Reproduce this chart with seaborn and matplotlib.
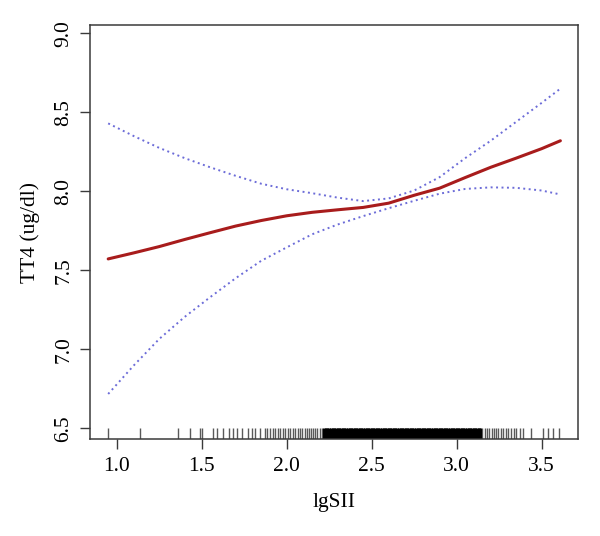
import matplotlib
matplotlib.use("Agg")
import matplotlib.pyplot as plt
import seaborn as sns
import numpy as np
import pandas as pd

sns.set_theme(style="white")
plt.rcParams['font.family'] = ['Liberation Serif', 'DejaVu Serif']

# curva ajustada y limites del IC 95%
lgsii = [0.95, 1.10, 1.25, 1.40, 1.55, 1.70, 1.85, 2.00, 2.15, 2.30,
         2.45, 2.60, 2.75, 2.90, 3.05, 3.20, 3.35, 3.50, 3.61]
fit = [7.572, 7.610, 7.650, 7.695, 7.738, 7.780, 7.815, 7.845, 7.867, 7.883,
       7.898, 7.925, 7.975, 8.020, 8.087, 8.152, 8.210, 8.270, 8.320]
upper = [8.430, 8.350, 8.275, 8.210, 8.152, 8.098, 8.048, 8.013, 7.988, 7.960,
         7.938, 7.955, 8.005, 8.090, 8.210, 8.320, 8.440, 8.560, 8.650]
lower = [6.717, 6.897, 7.065, 7.205, 7.330, 7.450, 7.560, 7.645, 7.728, 7.790,
         7.843, 7.893, 7.940, 7.985, 8.015, 8.025, 8.022, 8.005, 7.980]

# observaciones (rug) - zonas dispersas y bloque denso
rug_sparse = [0.949, 1.140, 1.362, 1.431, 1.490, 1.500, 1.568, 1.588, 1.627, 1.663,
              1.686, 1.710, 1.736, 1.775, 1.795, 1.814, 1.844, 1.873, 1.883, 1.903,
              1.918, 1.932, 1.946, 1.962, 1.978, 1.991, 2.005, 2.021, 2.037, 2.050,
              2.065, 2.080, 2.092, 2.105, 2.118, 2.130, 2.142, 2.155, 2.168, 2.180,
              2.195, 2.210,
              3.150, 3.165, 3.178, 3.190, 3.205, 3.218, 3.232, 3.245, 3.258, 3.272,
              3.288, 3.300, 3.318, 3.335, 3.350, 3.370, 3.390, 3.440, 3.505, 3.535,
              3.565, 3.604]
rug_dense = [2.22, 2.23, 2.24, 2.25, 2.26, 2.27, 2.28, 2.29, 2.30, 2.31,
             2.32, 2.33, 2.34, 2.35, 2.36, 2.37, 2.38, 2.39, 2.40, 2.41,
             2.42, 2.43, 2.44, 2.45, 2.46, 2.47, 2.48, 2.49, 2.50, 2.51,
             2.52, 2.53, 2.54, 2.55, 2.56, 2.57, 2.58, 2.59, 2.60, 2.61,
             2.62, 2.63, 2.64, 2.65, 2.66, 2.67, 2.68, 2.69, 2.70, 2.71,
             2.72, 2.73, 2.74, 2.75, 2.76, 2.77, 2.78, 2.79, 2.80, 2.81,
             2.82, 2.83, 2.84, 2.85, 2.86, 2.87, 2.88, 2.89, 2.90, 2.91,
             2.92, 2.93, 2.94, 2.95, 2.96, 2.97, 2.98, 2.99, 3.00, 3.01,
             3.02, 3.03, 3.04, 3.05, 3.06, 3.07, 3.08, 3.09, 3.10, 3.11,
             3.12, 3.13, 3.14]

x_ticks = [1.0, 1.5, 2.0, 2.5, 3.0, 3.5]
y_ticks = [6.5, 7.0, 7.5, 8.0, 8.5, 9.0]

df = pd.DataFrame({'lgSII': lgsii, 'fit': fit, 'upper': upper, 'lower': lower})

fig = plt.figure(figsize=(6.0, 5.36), dpi=100)
ax = fig.add_axes([0.15, 0.1804, 0.814, 0.773])

ci_color = '#6c6cd8'
sns.lineplot(data=df, x='lgSII', y='upper', ax=ax, color=ci_color, lw=1.4,
             linestyle=(0, (1, 1.8)))
sns.lineplot(data=df, x='lgSII', y='lower', ax=ax, color=ci_color, lw=1.4,
             linestyle=(0, (1, 1.8)))
sns.lineplot(data=df, x='lgSII', y='fit', ax=ax, color='#a81c1c', lw=2.2)

sns.rugplot(x=rug_sparse, ax=ax, height=0.028, color='#222222', linewidth=1.0,
            alpha=0.75)
sns.rugplot(x=rug_dense, ax=ax, height=0.028, color='black', linewidth=2.2)

ax.set_xlim(0.843, 3.716)
ax.set_ylim(6.43, 9.053)
ax.set_xticks(x_ticks)
ax.set_xticklabels([f'{t:.1f}' for t in x_ticks])
ax.set_yticks(y_ticks)
ax.set_yticklabels([f'{t:.1f}' for t in y_ticks], rotation=90, va='center')

for s in ax.spines.values():
    s.set_color('#3a3a3a')
    s.set_linewidth(1.1)
ax.tick_params(axis='both', direction='out', length=7, width=1.0, color='#3a3a3a',
               labelsize=15.5, labelcolor='black', bottom=True, left=True)
ax.tick_params(axis='x', pad=6)
ax.tick_params(axis='y', pad=5)

ax.set_xlabel('lgSII', fontsize=15.5, labelpad=12, color='black')
ax.set_ylabel('TT4 (ug/dl)', fontsize=15.5, labelpad=10, color='black')

fig.savefig('out.png', dpi=100, facecolor='white')
